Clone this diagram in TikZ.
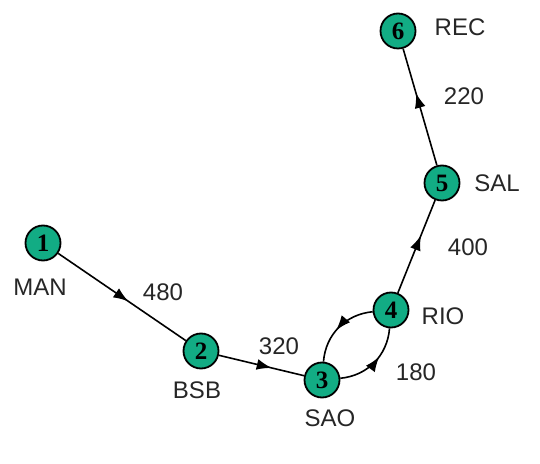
\documentclass[tikz,border=0pt]{standalone}
\usepackage{fontspec}
\setmainfont{Liberation Sans}
\newfontfamily\numfont{Liberation Serif}
\usetikzlibrary{decorations.markings,arrows.meta}
\definecolor{nodegreen}{RGB}{18,172,132}
\begin{document}
\begin{tikzpicture}[x=1pt,y=1pt,
  vert/.style={circle,draw=black,line width=1.8pt,fill=nodegreen,minimum size=35pt,inner sep=0pt,font=\numfont\bfseries\fontsize{25}{25}\selectfont},
  lbl/.style={font=\fontsize{24}{24}\selectfont,text=black!85},
  edge/.style={line width=1.6pt,postaction={decorate},decoration={markings,mark=at position #1 with {\arrow{Latex[length=15pt,width=11pt]}}}},
  edge/.default=0.55]
\useasboundingbox (0,0) rectangle (540,463);
\node[vert] (n1) at (43,220) {1};
\node[vert] (n2) at (201,112) {2};
\node[vert] (n3) at (322,83) {3};
\node[vert] (n4) at (391,153) {4};
\node[vert] (n5) at (442,280) {5};
\node[vert] (n6) at (398,432) {6};
\node[lbl] (l1) at (40,176) {MAN};
\node[lbl] (l2) at (197,73) {BSB};
\node[lbl] (l3) at (330,45) {SAO};
\node[lbl] (l4) at (443,147) {RIO};
\node[lbl] (l5) at (497,280) {SAL};
\node[lbl] (l6) at (460,436) {REC};
\node[lbl] (w12) at (163,171) {480};
\node[lbl] (w23) at (279,117) {320};
\node[lbl] (w34) at (416,91) {180};
\node[lbl] (w45) at (468,216) {400};
\node[lbl] (w56) at (464,367) {220};
\draw[edge=0.55] (n1) -- (n2);
\draw[edge=0.62] (n2) -- (n3);
\draw[edge=0.6] (n3) to[bend right=40] (n4);
\draw[edge=0.55] (n4) to[bend right=40] (n3);
\draw[edge=0.62] (n4) -- (n5);
\draw[edge=0.62] (n5) -- (n6);
\end{tikzpicture}
\end{document}
